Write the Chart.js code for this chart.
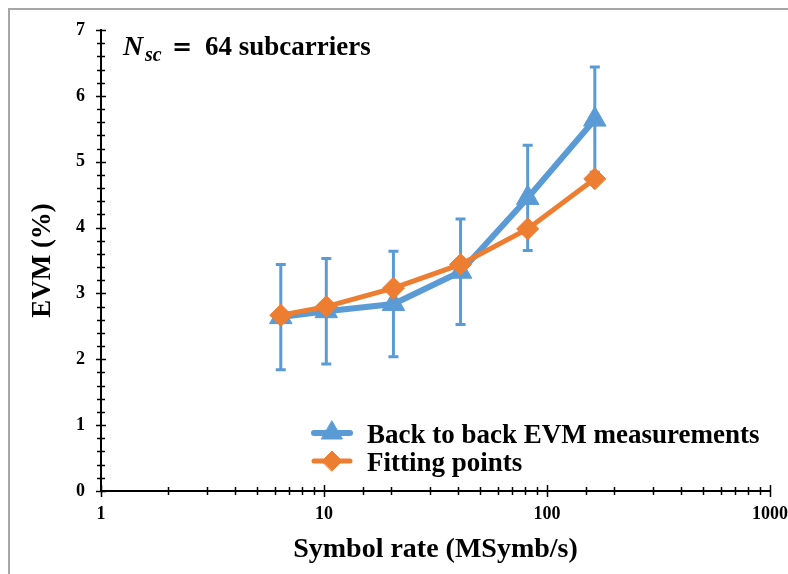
<!DOCTYPE html>
<html>
<head>
<meta charset="utf-8">
<script src="https://cdn.jsdelivr.net/npm/chart.js@4.4.1/dist/chart.umd.min.js"></script>
<style>
  html, body { margin: 0; padding: 0; background: #fff; }
  #wrap { position: relative; width: 788px; height: 574px; overflow: hidden; }
  #frame {
    position: absolute; left: 8px; top: 8px; width: 800px; height: 600px;
    border-top: 2px solid #a6a6a6; border-left: 2px solid #a6a6a6;
    pointer-events: none;
  }
</style>
</head>
<body>
<div id="wrap">
  <canvas id="evmChart" width="788" height="574"></canvas>
  <div id="frame"></div>
</div>
<script>
// Values.
const symbolRates = [6.4, 10.24, 20.48, 40.96, 81.92, 163.84];
const measuredEvm = [2.64, 2.73, 2.84, 3.33, 4.45, 5.64];
const measuredErr = [0.8, 0.8, 0.8, 0.8, 0.8, 0.8];
const fittedEvm = [2.67, 2.8, 3.08, 3.44, 3.98, 4.74];
const seriesNames = ["Back to back EVM measurements", "Fitting points"];
const xTickLabels = [1, 10, 100, 1000];
const yTickLabels = [0, 1, 2, 3, 4, 5, 6, 7];

const BLUE = "#5b9bd5";
const ORANGE = "#ed7d31";
const SERIF = '"Liberation Serif", "Times New Roman", serif';

function isLabelled(list, value) {
  return list.some((v) => Math.abs(v - value) < 1e-6);
}

// Vertical error bars for the measured series, placed with the chart scales.
const errorBars = {
  id: "errorBars",
  beforeDatasetsDraw(chart) {
    const { ctx, scales: { x, y } } = chart;
    ctx.save();
    ctx.strokeStyle = BLUE;
    ctx.lineWidth = 3;
    ctx.beginPath();
    symbolRates.forEach((rate, i) => {
      const px = x.getPixelForValue(rate);
      const top = y.getPixelForValue(measuredEvm[i] + measuredErr[i]);
      const bottom = y.getPixelForValue(measuredEvm[i] - measuredErr[i]);
      ctx.moveTo(px, top);
      ctx.lineTo(px, bottom);
      ctx.moveTo(px - 5, top);
      ctx.lineTo(px + 5, top);
      ctx.moveTo(px - 5, bottom);
      ctx.lineTo(px + 5, bottom);
    });
    ctx.stroke();
    ctx.restore();
  },
};

// Excel style tick marks that cross the axis line.
const crossTicks = {
  id: "crossTicks",
  afterDraw(chart) {
    const { ctx, scales: { x, y } } = chart;
    ctx.save();
    ctx.strokeStyle = "#000";
    ctx.lineWidth = 1.5;
    ctx.beginPath();
    x.ticks.forEach((tick) => {
      const px = Math.round(x.getPixelForValue(tick.value)) + 0.5;
      const len = isLabelled(xTickLabels, tick.value) ? 6 : 4;
      ctx.moveTo(px, x.top - len);
      ctx.lineTo(px, x.top + len);
    });
    y.ticks.forEach((tick) => {
      const py = Math.round(y.getPixelForValue(tick.value)) + 0.5;
      const len = isLabelled(yTickLabels, tick.value) ? 5 : 4;
      ctx.moveTo(y.right - len, py);
      ctx.lineTo(y.right + len, py);
    });
    ctx.stroke();
    ctx.restore();
  },
};

// Legend inside the plot plus the N_sc note.
const notes = {
  id: "notes",
  afterDraw(chart) {
    const { ctx } = chart;
    ctx.save();

    const rows = [
      { y: 433, color: BLUE, style: "triangle", radius: 12, width: 6, text: seriesNames[0], base: 443 },
      { y: 461, color: ORANGE, style: "rectRot", radius: 10, width: 5, text: seriesNames[1], base: 471 },
    ];
    rows.forEach((row) => {
      ctx.strokeStyle = row.color;
      ctx.fillStyle = row.color;
      ctx.lineWidth = row.width;
      ctx.lineCap = "round";
      ctx.beginPath();
      ctx.moveTo(314, row.y);
      ctx.lineTo(350, row.y);
      ctx.stroke();
      ctx.lineWidth = 1;
      Chart.helpers.drawPoint(ctx, { pointStyle: row.style, radius: row.radius, rotation: 0, borderWidth: 1 }, 332, row.y);
      ctx.fillStyle = "#000";
      ctx.font = `bold 27px ${SERIF}`;
      ctx.textBaseline = "alphabetic";
      ctx.fillText(row.text, 367, row.base);
    });

    ctx.fillStyle = "#000";
    ctx.textBaseline = "alphabetic";
    ctx.font = `italic bold 28px ${SERIF}`;
    ctx.fillText("N", 123, 55);
    ctx.font = `italic bold 20px ${SERIF}`;
    ctx.fillText("sc", 145, 61);
    ctx.font = `bold 24px "DejaVu Serif", serif`;
    ctx.fillText("=", 172, 55);
    ctx.font = `bold 27px ${SERIF}`;
    ctx.fillText("64 subcarriers", 205, 55);
    ctx.restore();
  },
};

const evmChart = new Chart(document.getElementById("evmChart"), {
  type: "line",
  data: {
    datasets: [
      {
        label: seriesNames[0],
        data: symbolRates.map((rate, i) => ({ x: rate, y: measuredEvm[i] })),
        borderColor: BLUE,
        backgroundColor: BLUE,
        borderWidth: 6,
        pointStyle: "triangle",
        pointRadius: 13,
        pointBorderWidth: 1,
        order: 1,
      },
      {
        label: seriesNames[1],
        data: symbolRates.map((rate, i) => ({ x: rate, y: fittedEvm[i] })),
        borderColor: ORANGE,
        backgroundColor: ORANGE,
        borderWidth: 5,
        pointStyle: "rectRot",
        pointRadius: 11,
        pointBorderWidth: 1,
        order: 0,
      },
    ],
  },
  options: {
    responsive: false,
    animation: false,
    layout: { padding: { top: 30, right: 18, bottom: 0, left: 0 } },
    plugins: {
      legend: { display: false },
      tooltip: { enabled: false },
    },
    scales: {
      x: {
        type: "logarithmic",
        min: 1,
        max: 1000,
        afterFit(scale) {
          scale.height = 83;
          scale.paddingLeft = 0;
          scale.paddingRight = 0;
        },
        grid: { display: false, drawTicks: false },
        border: { display: true, color: "#000", width: 2 },
        ticks: {
          autoSkip: false,
          maxRotation: 0,
          padding: 13,
          color: "#000",
          font: { family: SERIF, size: 18, weight: "bold" },
          callback(value) {
            return isLabelled(xTickLabels, value) ? String(value) : "";
          },
        },
        title: {
          display: true,
          text: "Symbol rate (MSymb/s)",
          color: "#000",
          font: { family: SERIF, size: 28, weight: "bold" },
          padding: { top: 0, bottom: 7 },
        },
      },
      y: {
        min: 0,
        max: 7,
        afterFit(scale) {
          scale.width = 101;
          scale.paddingTop = 0;
          scale.paddingBottom = 0;
        },
        grid: { display: false, drawTicks: false },
        border: { display: true, color: "#000", width: 2 },
        ticks: {
          stepSize: 0.2,
          autoSkip: false,
          padding: 16,
          color: "#000",
          font: { family: SERIF, size: 18, weight: "bold" },
          callback(value) {
            return isLabelled(yTickLabels, value) ? String(Math.round(value)) : "";
          },
        },
        title: {
          display: true,
          text: "EVM (%)",
          color: "#000",
          font: { family: SERIF, size: 27, weight: "bold" },
          padding: { top: 27, bottom: 0 },
        },
      },
    },
  },
  plugins: [errorBars, crossTicks, notes],
});
</script>
</body>
</html>
